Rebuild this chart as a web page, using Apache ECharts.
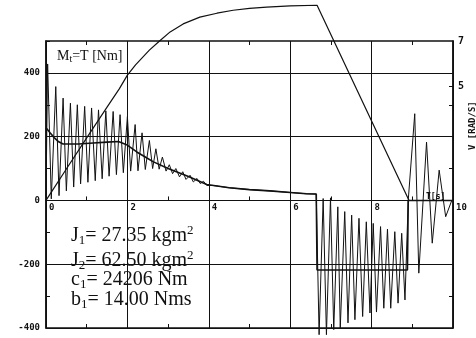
<!DOCTYPE html>
<html>
<head>
    <meta charset="utf-8">
    <title>Mt=T [Nm]</title>
    <script type="text/javascript" src="https://cdn.jsdelivr.net/npm/echarts@6/dist/echarts.min.js"></script>
</head>
<body style="margin: 0; background: #fff">
    <div id="container" style="width: 476px; height: 338px"></div>
    <script type="text/javascript">
        // Mt - oscillating shaft torque [Nm], time [s]
        var torqueTime = [0, 0.04, 0.13, 0.24, 0.32, 0.42, 0.50, 0.60, 0.68, 0.77,
            0.85, 0.95, 1.03, 1.12, 1.21, 1.29, 1.38, 1.47, 1.55, 1.65,
            1.73, 1.82, 1.90, 2.00, 2.08, 2.19, 2.26, 2.36, 2.44, 2.54,
            2.62, 2.70, 2.78, 2.86, 2.95, 3.03, 3.11, 3.19, 3.28, 3.36,
            3.44, 3.54, 3.62, 3.71, 3.79, 3.87, 3.95,
            4.10, 4.50, 5.00, 5.50, 6.00, 6.40, 6.64,
            6.71, 6.81, 6.89, 6.99, 7.07, 7.17, 7.23, 7.34, 7.42, 7.51,
            7.59, 7.69, 7.78, 7.87, 7.96, 8.04, 8.12, 8.22, 8.30, 8.39,
            8.47, 8.57, 8.65, 8.74, 8.82, 8.90,
            9.06, 9.16, 9.35, 9.49, 9.66, 9.82, 9.97];
        var torqueValue = [10, 428, 5, 357, 15, 321, 30, 305, 42, 300,
            52, 295, 57, 290, 62, 284, 68, 281, 76, 279,
            81, 269, 87, 263, 92, 238, 93, 212, 97, 188,
            100, 162, 98, 136, 92, 112, 84, 100, 74, 90,
            66, 79, 58, 69, 53, 60, 47,
            47, 40, 34, 30, 25, 21, 20,
            -421, 6, -421, 8, -405, -20, -400, -35, -384, -46,
            -374, -56, -364, -67, -353, -72, -350, -82, -338, -90,
            -338, -98, -322, -103, -312, 0,
            272, -228, 183, -134, 95, -51, 0];

        // T - mean torque [Nm]
        var meanTime = [0, 0.1, 0.2, 0.3, 0.42, 0.8, 1.16, 1.5, 1.78, 1.98, 2.23, 2.48, 2.64,
            3.0, 3.5, 3.95, 4.5, 5.0, 5.5, 6.0, 6.4, 6.64, 6.66, 8.88, 8.9, 10];
        var meanValue = [228, 212, 197, 185, 177, 177, 180, 183, 185, 175, 152, 133, 121,
            100, 75, 50, 40, 34, 30, 25, 21, 20, -218, -218, 0, 0];

        // V - angular speed [rad/s]
        var speedTime = [0, 0.5, 1.0, 1.5, 1.8, 2.0, 2.2, 2.54, 2.79, 3.05, 3.37, 3.78,
            4.2, 4.6, 5.0, 5.42, 6.0, 6.66, 8.92];
        var speedValue = [0, 1.38, 2.75, 4.1, 4.9, 5.5, 5.95, 6.6, 7.0, 7.4, 7.75, 8.05,
            8.22, 8.35, 8.43, 8.49, 8.54, 8.57, 0];

        // tick labels
        var xLabels = [0, 2, 4, 6, 8, 10];
        var yLabels = [-400, -200, 0, 200, 400];
        var vLabels = [5, 7];
        var vTicks = [-4.2, -2.8, -1.4, 1.4, 2.8, 4.2, 5];

        var params = [
            ['J', '1', '= 27.35 kgm', '2'],
            ['J', '2', '= 62.50 kgm', '2'],
            ['c', '1', '= 24206 Nm', ''],
            ['b', '1', '= 14.00 Nms', '']
        ];

        function pairs(t, v) {
            var out = [];
            for (var i = 0; i < t.length; i++) {
                out.push([t[i], v[i]]);
            }
            return out;
        }

        var ink = '#111';
        var mono = 'DejaVu Sans Mono';
        var serif = 'Liberation Serif';

        var yMin = -400, yMax = 500;
        var gridTop = 41, gridBottom = 10;
        // move the labelled x axis up to the torque zero line
        var zeroOffset = -(338 - gridTop - gridBottom) * (0 - yMin) / (yMax - yMin);

        var paramText = [];
        var paramTop = [224, 249, 270, 290];
        for (var i = 0; i < params.length; i++) {
            paramText.push({
                type: 'text',
                left: 71,
                top: paramTop[i],
                style: {
                    text: '{a|' + params[i][0] + '}{b|' + params[i][1] + '}{a|' + params[i][2] + '}' +
                        (params[i][3] ? '{c|' + params[i][3] + '}' : ''),
                    rich: {
                        a: { fontFamily: serif, fontSize: 20, lineHeight: 23, fill: ink },
                        b: { fontFamily: serif, fontSize: 13, lineHeight: 13, verticalAlign: 'bottom', fill: ink },
                        c: { fontFamily: serif, fontSize: 13, lineHeight: 13, verticalAlign: 'top', fill: ink }
                    }
                }
            });
        }

        var dom = document.getElementById('container');
        var myChart = echarts.init(dom, null, { renderer: 'canvas' });
        var option = {
            backgroundColor: '#fff',
            animation: false,
            grid: {
                left: 46,
                right: 23,
                top: gridTop,
                bottom: gridBottom,
                containLabel: false,
                outerBoundsMode: 'none',
                show: true,
                borderColor: ink,
                borderWidth: 1.5
            },
            xAxis: [{
                type: 'value',
                position: 'bottom',
                offset: zeroOffset,
                min: 0,
                max: 10,
                interval: 1,
                axisLine: { onZero: false, lineStyle: { color: ink, width: 1.2 } },
                axisTick: { inside: true, length: 4, lineStyle: { color: ink } },
                axisLabel: {
                    align: 'left',
                    margin: 3,
                    padding: [0, 0, 0, 3],
                    color: ink,
                    fontFamily: mono,
                    fontWeight: 'bold',
                    fontSize: 9,
                    formatter: function (v) {
                        return xLabels.indexOf(v) >= 0 ? String(v) : '';
                    }
                },
                splitLine: { show: true, lineStyle: { color: [ink, 'transparent'], width: 1 } }
            }, {
                type: 'value',
                position: 'top',
                min: 0,
                max: 10,
                interval: 1,
                axisLine: { show: false, onZero: false },
                axisTick: { inside: true, length: 4, lineStyle: { color: ink } },
                axisLabel: { show: false },
                splitLine: { show: false }
            }, {
                type: 'value',
                position: 'bottom',
                offset: 0,
                min: 0,
                max: 10,
                interval: 1,
                axisLine: { show: false, onZero: false },
                axisTick: { inside: true, length: 4, lineStyle: { color: ink } },
                axisLabel: { show: false },
                splitLine: { show: false }
            }],
            yAxis: [{
                type: 'value',
                min: yMin,
                max: yMax,
                interval: 100,
                axisLine: { show: true, onZero: false, lineStyle: { color: ink, width: 1.5 } },
                axisTick: { inside: true, length: 4, lineStyle: { color: ink } },
                axisLabel: {
                    margin: 6,
                    color: ink,
                    fontFamily: mono,
                    fontWeight: 'bold',
                    fontSize: 9,
                    formatter: function (v) {
                        return yLabels.indexOf(v) >= 0 ? String(v) : '';
                    }
                },
                splitLine: { show: true, lineStyle: { color: [ink, 'transparent'], width: 1 } }
            }, {
                type: 'value',
                position: 'right',
                min: -5.6,
                max: 7,
                axisLine: { show: true, onZero: false, lineStyle: { color: ink, width: 1.5 } },
                axisTick: { inside: true, length: 4, customValues: vTicks, lineStyle: { color: ink } },
                axisLabel: {
                    margin: 5,
                    customValues: vLabels,
                    color: ink,
                    fontFamily: mono,
                    fontWeight: 'bold',
                    fontSize: 10
                },
                splitLine: { show: false }
            }],
            graphic: [{
                type: 'text',
                left: 57,
                top: 49,
                style: {
                    text: '{a|M}{b|t}{a|=T [Nm]}',
                    rich: {
                        a: { fontFamily: serif, fontSize: 14, lineHeight: 17, fill: ink },
                        b: { fontFamily: serif, fontSize: 10, lineHeight: 10, verticalAlign: 'bottom', fill: ink }
                    }
                }
            }, {
                type: 'text',
                left: 426,
                top: 193,
                style: { text: 'T[s]', fontFamily: mono, fontWeight: 'bold', fontSize: 8, fill: ink }
            }, {
                type: 'text',
                x: 468,
                y: 150,
                rotation: Math.PI / 2,
                style: { text: 'V [RAD/S]', fontFamily: mono, fontWeight: 'bold', fontSize: 9, fill: ink }
            }].concat(paramText),
            series: [{
                name: 'Mt',
                type: 'line',
                symbol: 'none',
                clip: false,
                lineStyle: { color: ink, width: 1 },
                data: pairs(torqueTime, torqueValue)
            }, {
                name: 'T',
                type: 'line',
                symbol: 'none',
                clip: false,
                lineStyle: { color: ink, width: 1.6 },
                data: pairs(meanTime, meanValue)
            }, {
                name: 'V',
                type: 'line',
                yAxisIndex: 1,
                symbol: 'none',
                clip: false,
                lineStyle: { color: ink, width: 1.2 },
                data: pairs(speedTime, speedValue)
            }]
        };
        myChart.setOption(option, true);
    </script>
</body>
</html>
